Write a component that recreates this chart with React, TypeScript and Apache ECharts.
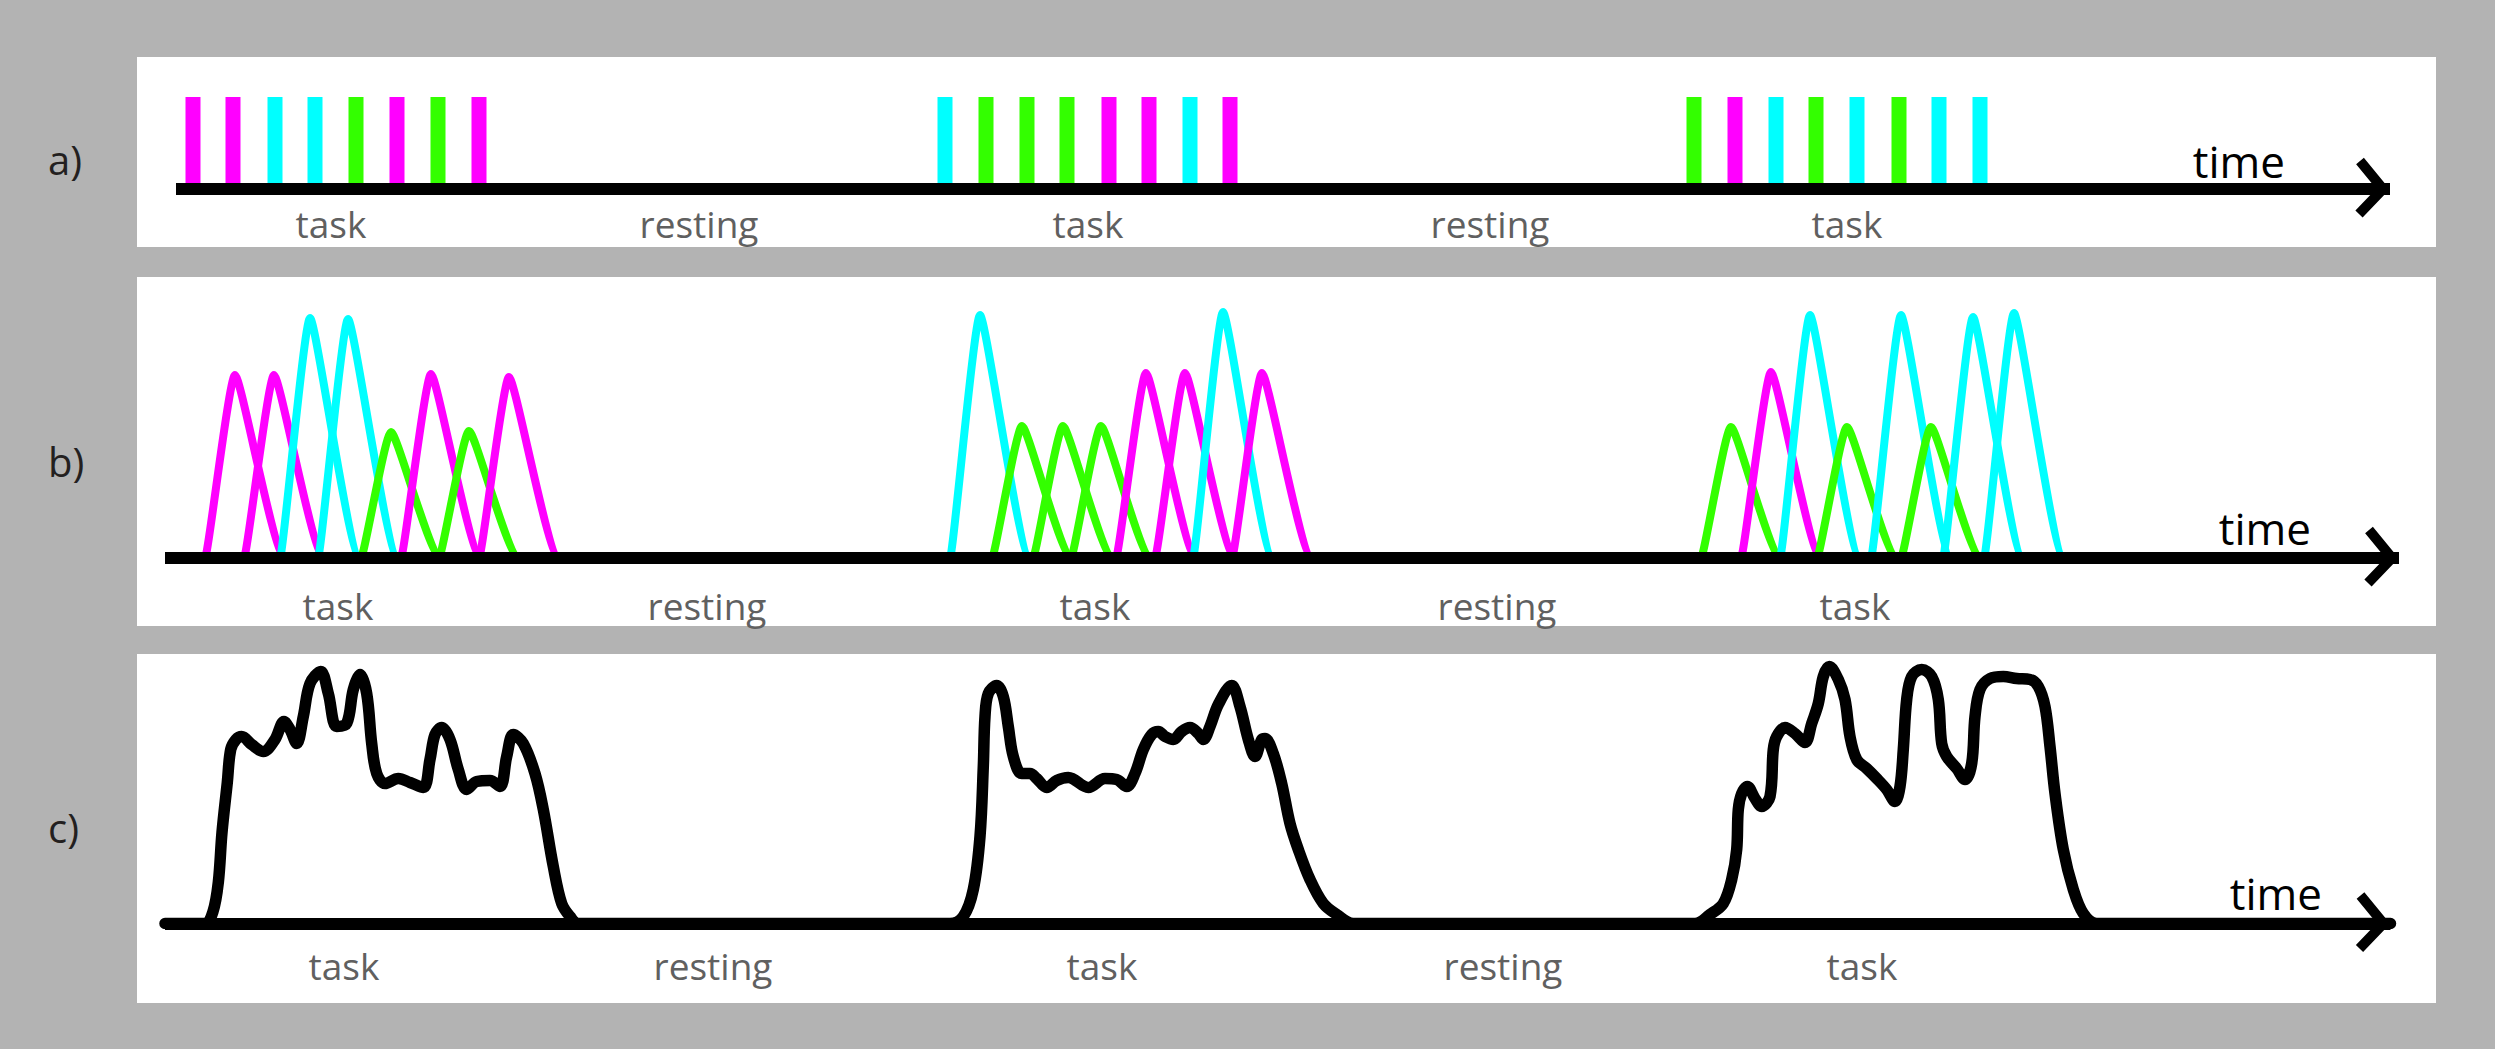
import React, { useEffect, useRef } from 'react';
import * as echarts from 'echarts';

// ---------- data ----------
// condition index: 0 = magenta, 1 = cyan, 2 = green
const conditionColors = ['#ff00ff', '#00ffff', '#33ff00'];

// a) stimulus onsets (time units) and their conditions
const stimulusOnsets = [
  3.3, 7.3, 11.5, 15.5, 19.6, 23.7, 27.8, 31.9,
  78.5, 82.6, 86.7, 90.7, 94.9, 98.9, 103.0, 107.0,
  153.4, 157.5, 161.6, 165.6, 169.7, 173.9, 177.9, 182.0,
];
const stimulusConditions = [
  0, 0, 1, 1, 2, 0, 2, 0,
  1, 2, 2, 2, 0, 0, 1, 0,
  2, 0, 1, 2, 1, 2, 1, 1,
];
const stimulusAmplitude = 1;

// b) single-event responses: peak time and peak height
const responsePeakTimes = [
  7.5, 11.4, 15.0, 18.8, 23.1, 27.1, 30.9, 34.9,
  82.0, 86.2, 90.3, 94.1, 98.6, 102.5, 106.3, 110.2,
  157.1, 161.1, 165.0, 168.7, 174.1, 177.1, 181.3, 185.4,
];
const responsePeakHeights = [
  1.83, 1.83, 2.40, 2.39, 1.26, 1.84, 1.27, 1.81,
  2.43, 1.32, 1.32, 1.32, 1.85, 1.85, 2.46, 1.85,
  1.31, 1.86, 2.43, 1.31, 2.43, 1.31, 2.41, 2.45,
];

// c) summed signal, one list per task block
const signalBlock1: [number, number][] = [
  [4.5, 0], [5.3, 0.12], [5.83, 0.41], [6.2, 0.91], [6.73, 1.41], [7.07, 1.74], [7.6, 1.84],
  [8.17, 1.87], [9.17, 1.79], [10.33, 1.72], [11.5, 1.84], [12.4, 2.02], [13.0, 1.94],
  [13.67, 1.8], [14.33, 2.07], [15.0, 2.4], [16.07, 2.52], [16.83, 2.3], [17.67, 1.97],
  [18.67, 2.0], [19.33, 2.34], [20.0, 2.49], [20.67, 2.3], [21.17, 1.8], [21.67, 1.5],
  [22.5, 1.4], [23.83, 1.45], [25.0, 1.41], [26.33, 1.36], [27.0, 1.64], [27.5, 1.89],
  [28.17, 1.96], [29.0, 1.84], [29.83, 1.54], [30.67, 1.34], [31.67, 1.42], [33.0, 1.43],
  [34.0, 1.37], [34.67, 1.67], [35.33, 1.89], [36.33, 1.8], [37.5, 1.5], [38.33, 1.14],
  [39.33, 0.57], [40.17, 0.2], [41.0, 0.07], [41.83, 0],
];
const signalBlock2: [number, number][] = [
  [79.0, 0], [80.33, 0.07], [81.33, 0.34], [82.0, 0.87], [82.33, 1.57], [82.5, 2.07],
  [82.83, 2.3], [83.67, 2.38], [84.33, 2.27], [84.83, 1.97], [85.33, 1.67], [86.17, 1.5],
  [87.0, 1.5], [87.67, 1.45], [88.67, 1.36], [89.67, 1.43], [90.83, 1.46], [92.83, 1.36],
  [94.5, 1.45], [95.67, 1.44], [96.67, 1.37], [97.5, 1.5], [98.33, 1.74], [99.17, 1.89],
  [99.83, 1.92], [100.5, 1.87], [101.33, 1.84], [102.17, 1.92], [103.0, 1.96], [103.83, 1.9],
  [104.33, 1.84], [105.0, 1.97], [105.83, 2.19], [107.17, 2.38], [108.0, 2.17], [108.83, 1.84],
  [109.5, 1.67], [110.17, 1.84], [110.5, 1.85], [111.33, 1.7], [112.17, 1.4], [113.0, 1.0],
  [113.83, 0.74], [115.0, 0.44], [116.33, 0.2], [117.67, 0.09], [119.33, 0],
];
const signalBlock3: [number, number][] = [
  [153.5, 0], [155.0, 0.09], [156.33, 0.2], [157.17, 0.44], [157.67, 0.74], [157.83, 1.14],
  [158.17, 1.3], [158.73, 1.37], [159.5, 1.25], [160.17, 1.17], [161.0, 1.27], [161.33, 1.74],
  [161.67, 1.87], [162.5, 1.96], [163.5, 1.9], [164.5, 1.81], [165.17, 2.0], [165.83, 2.2],
  [166.33, 2.47], [166.93, 2.57], [167.83, 2.44], [168.5, 2.24], [169.0, 1.87], [169.67, 1.64],
  [170.67, 1.55], [171.67, 1.45], [172.67, 1.34], [173.5, 1.22], [174.0, 1.37], [174.33, 1.74],
  [174.67, 2.24], [175.17, 2.47], [176.17, 2.54], [177.17, 2.47], [177.83, 2.24], [178.17, 1.8],
  [178.67, 1.67], [179.67, 1.55], [180.5, 1.44], [181.17, 1.6], [181.5, 2.07], [182.0, 2.34],
  [183.0, 2.45], [184.33, 2.47], [185.67, 2.45], [187.0, 2.44], [187.83, 2.37], [188.5, 2.17],
  [189.0, 1.77], [189.5, 1.3], [190.33, 0.74], [191.33, 0.34], [192.33, 0.1], [193.67, 0],
];

// phase labels under each axis
const phaseNames = ['task', 'resting', 'task', 'resting', 'task'];
const phaseTimesA = [17.1, 53.9, 92.8, 133.0, 168.7];
const phaseTimesB = [17.8, 54.7, 93.5, 133.7, 169.5];
const phaseTimesC = [18.4, 55.3, 94.2, 134.3, 170.2];

// axis extents per panel
const axisRangeA = [1.6, 223.0];
const axisRangeB = [0.5, 223.9];
const axisRangeC = [0.5, 223.05];

const axisName = 'time';
const panelLetters = ['a)', 'b)', 'c)'];

// ---------- styles ----------
const LABEL_FONT = '"Open Sans", "Noto Sans", sans-serif';
const LABEL_GRAY = '#606060';
const RISE = 3.0; // response rise width (time units)
const FALL = 5.0; // response fall width (time units)

function App() {
  const ref = useRef<HTMLDivElement>(null);

  useEffect(() => {
    if (!ref.current) return;
    const chart = echarts.init(ref.current, undefined, { renderer: 'svg' });

    const makeXAxis = (gridIndex: number, range: number[], phases: number[], labelMargin: number, nameGap: number, namePad: number) => ({
      type: 'value',
      gridIndex,
      min: range[0],
      max: range[1],
      z: 10,
      name: axisName,
      nameLocation: 'end',
      nameGap,
      nameTextStyle: {
        fontFamily: LABEL_FONT,
        fontSize: 44,
        lineHeight: 44,
        color: '#000',
        align: 'right',
        verticalAlign: 'bottom',
        padding: [0, 0, namePad, 0],
      },
      axisLine: { show: true, onZero: false, lineStyle: { color: '#000', width: 12, cap: 'butt' } },
      axisTick: { show: false },
      splitLine: { show: false },
      axisLabel: {
        show: true,
        customValues: phases,
        margin: labelMargin,
        fontFamily: LABEL_FONT,
        fontSize: 37,
        lineHeight: 37,
        color: LABEL_GRAY,
        hideOverlap: false,
        showMinLabel: true,
        showMaxLabel: true,
        formatter: (v: number) => {
          const i = phases.findIndex((p) => Math.abs(p - v) < 1e-6);
          return i >= 0 ? phaseNames[i] : '';
        },
      },
    });

    const makeYAxis = (gridIndex: number, max: number) => ({
      type: 'value',
      gridIndex,
      min: 0,
      max,
      show: false,
    });

    const arrowSeries = (idx: number, range: number[]) => ({
      type: 'custom',
      xAxisIndex: idx,
      yAxisIndex: idx,
      z: 12,
      silent: true,
      data: [[range[1], 0]],
      renderItem: (_p: any, api: any) => {
        const c = api.coord([api.value(0), api.value(1)]);
        return {
          type: 'polyline',
          shape: {
            points: [
              [c[0] - 30, c[1] - 28],
              [c[0] - 7, c[1]],
              [c[0] - 31, c[1] + 25],
            ],
          },
          style: { stroke: '#000', lineWidth: 10, fill: 'none', lineJoin: 'miter', lineCap: 'butt' },
        };
      },
    });

    const barData = stimulusOnsets.map((t, i) => ({
      value: [t, stimulusAmplitude],
      itemStyle: { color: conditionColors[stimulusConditions[i]] },
    }));

    const peakData = responsePeakTimes.map((t, i) => [t, responsePeakHeights[i], stimulusConditions[i]]);

    const signalData: [number, number][] = [
      [axisRangeC[0], 0],
      ...signalBlock1,
      ...signalBlock2,
      ...signalBlock3,
      [axisRangeC[1], 0],
    ];

    const panelRects = [
      { y: 57, h: 190 },
      { y: 277, h: 349 },
      { y: 654, h: 349 },
    ];

    const option: any = {
      animation: false,
      backgroundColor: '#b3b3b3',
      graphic: [
        ...panelRects.map((r) => ({
          type: 'rect',
          z: -5,
          silent: true,
          shape: { x: 137, y: r.y, width: 2299, height: r.h },
          style: { fill: '#ffffff' },
        })),
        ...panelLetters.map((t, i) => ({
          type: 'text',
          z: 5,
          x: 48,
          y: [159, 461, 827][i],
          style: {
            text: t,
            font: `40px ${LABEL_FONT}`,
            fill: '#231f20',
            verticalAlign: 'middle',
            align: 'left',
          },
        })),
      ],
      grid: [
        { left: 176, width: 2214, top: 97, height: 92, outerBoundsMode: 'none' },
        { left: 165, width: 2234, top: 308, height: 250, outerBoundsMode: 'none' },
        { left: 165, width: 2225.5, top: 663.5, height: 260, outerBoundsMode: 'none' },
      ],
      xAxis: [
        makeXAxis(0, axisRangeA, phaseTimesA, 16, -105, 6),
        makeXAxis(1, axisRangeB, phaseTimesB, 29, -88, 8),
        makeXAxis(2, axisRangeC, phaseTimesC, 23.6, -68.5, 8.6),
      ],
      yAxis: [makeYAxis(0, 1), makeYAxis(1, 2.5), makeYAxis(2, 2.6)],
      series: [
        {
          type: 'bar',
          name: 'stimuli',
          xAxisIndex: 0,
          yAxisIndex: 0,
          barWidth: 15,
          data: barData,
          silent: true,
        },
        {
          type: 'custom',
          name: 'responses',
          xAxisIndex: 1,
          yAxisIndex: 1,
          silent: true,
          encode: { x: 0, y: 1 },
          data: peakData,
          renderItem: (_p: any, api: any) => {
            const t = api.value(0);
            const h = api.value(1);
            const ci = api.value(2);
            const a = api.coord([t - RISE, 0]);
            const pk = api.coord([t, h]);
            const b = api.coord([t + FALL, 0]);
            const unit = api.coord([t + 1, 0])[0] - api.coord([t, 0])[0];
            const d =
              `M${a[0]},${a[1]} ` +
              `C${a[0] + 0.3 * unit},${a[1]} ${pk[0] - 0.57 * unit},${pk[1]} ${pk[0]},${pk[1]} ` +
              `C${pk[0] + 0.6 * unit},${pk[1]} ${b[0] - 1.1 * unit},${b[1]} ${b[0]},${b[1]}`;
            return {
              type: 'path',
              shape: { pathData: d },
              style: { stroke: conditionColors[ci], lineWidth: 8, fill: 'none', lineJoin: 'round' },
            };
          },
        },
        {
          type: 'line',
          name: 'signal',
          xAxisIndex: 2,
          yAxisIndex: 2,
          data: signalData,
          smooth: 0.35,
          showSymbol: false,
          silent: true,
          lineStyle: { color: '#000', width: 11.5, cap: 'round', join: 'round' },
        },
        arrowSeries(0, axisRangeA),
        arrowSeries(1, axisRangeB),
        arrowSeries(2, axisRangeC),
      ],
    };

    chart.setOption(option);
    return () => chart.dispose();
  }, []);

  return (
    <div
      ref={ref}
      style={{ position: 'fixed', left: 0, top: 0, width: '2495px', height: '1049px' }}
    />
  );
}

export default App;
